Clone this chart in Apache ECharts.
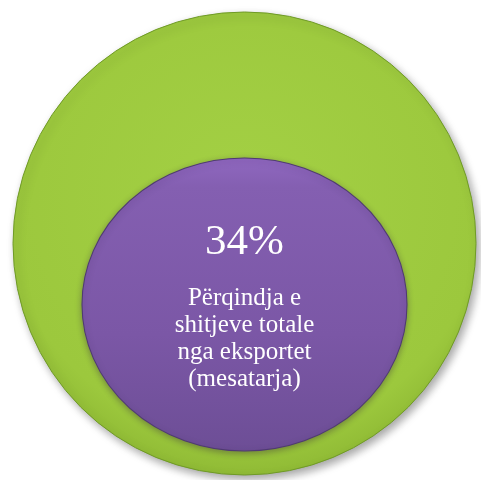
<!DOCTYPE html>
<html>
<head>
<meta charset="utf-8">
<style>
  html, body { margin: 0; padding: 0; background: #fff; }
  #chart { width: 481px; height: 480px; }
</style>
<script src="https://cdn.jsdelivr.net/npm/echarts@6/dist/echarts.min.js"></script>
</head>
<body>
<div id="chart"></div>
<script>
// data
const categories = ["Eksportet"];
const shareValues = [34];
const shareText = ["34%"];
const shareCaption = ["Përqindja e", "shitjeve totale", "nga eksportet", "(mesatarja)"];

const serif = "'Liberation Serif', 'DejaVu Serif', serif";
const chart = echarts.init(document.getElementById("chart"));

const greenFill = {
  type: "radial", x: 0.5, y: 0.4, r: 0.65,
  colorStops: [
    { offset: 0, color: "#a3d044" },
    { offset: 0.8, color: "#9cc83d" },
    { offset: 1, color: "#88b230" }
  ]
};
const purpleFill = {
  type: "linear", x: 0, y: 0, x2: 0, y2: 1,
  colorStops: [
    { offset: 0, color: "#9068c0" },
    { offset: 0.1, color: "#845fb1" },
    { offset: 0.6, color: "#7b57a6" },
    { offset: 1, color: "#6d4e96" }
  ]
};

chart.setOption({
  animation: false,
  grid: { left: 0, right: 0, top: 0, bottom: 0 },
  xAxis: { type: "category", data: categories, show: false },
  yAxis: { type: "value", min: 0, max: shareValues[0] * 2, show: false },
  series: [
    {
      name: "total",
      type: "scatter",
      data: shareValues,
      symbol: "circle",
      symbolSize: [463, 463],
      symbolOffset: [4, 3.5],
      itemStyle: {
        color: greenFill,
        borderColor: "#6f9a26",
        borderWidth: 1,
        shadowBlur: 8,
        shadowOffsetX: 3,
        shadowOffsetY: 4,
        shadowColor: "rgba(0,0,0,0.35)",
        opacity: 1
      },
      z: 1
    },
    {
      name: "eksportet",
      type: "scatter",
      data: shareValues,
      symbol: "circle",
      symbolSize: [325, 293],
      symbolOffset: [4, 64.5],
      itemStyle: {
        color: purpleFill,
        borderColor: "#4f3a72",
        borderWidth: 1,
        shadowBlur: 6,
        shadowOffsetY: 2,
        shadowColor: "rgba(40,20,60,0.35)",
        opacity: 1
      },
      label: {
        show: true,
        position: "inside",
        offset: [0, -7.5],
        align: "center",
        formatter: () =>
          "{big|" + shareText[0] + "}\n" +
          shareCaption.map(s => "{body|" + s + "}").join("\n"),
        rich: {
          big: {
            fontFamily: serif,
            fontSize: 43,
            lineHeight: 83,
            color: "#fff"
          },
          body: {
            fontFamily: serif,
            fontSize: 25,
            lineHeight: 27,
            color: "#fff"
          }
        }
      },
      z: 2
    }
  ]
});
</script>
</body>
</html>
